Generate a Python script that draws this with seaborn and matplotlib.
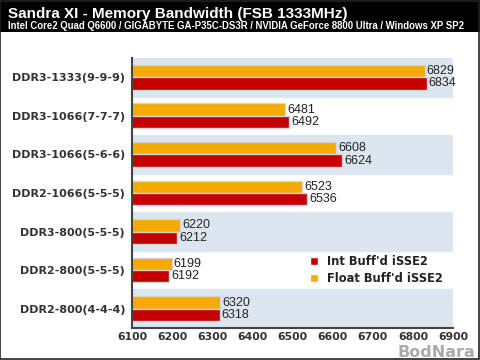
import matplotlib
matplotlib.use('Agg')
import matplotlib.pyplot as plt
import seaborn as sns
import pandas as pd
from matplotlib.patches import Rectangle, Patch

# Chart data
categories = ['DDR3-1333(9-9-9)', 'DDR3-1066(7-7-7)', 'DDR3-1066(5-6-6)', 'DDR2-1066(5-5-5)',
              'DDR3-800(5-5-5)', 'DDR2-800(5-5-5)', 'DDR2-800(4-4-4)']
float_vals = [6829, 6481, 6608, 6523, 6220, 6199, 6320]
int_vals = [6834, 6492, 6624, 6536, 6212, 6192, 6318]
series = ["Float Buff'd iSSE2", "Int Buff'd iSSE2"]
x_ticks = [6100, 6200, 6300, 6400, 6500, 6600, 6700, 6800, 6900]

df = pd.DataFrame({
    'Config': categories * 2,
    'Value': float_vals + int_vals,
    'Test': [series[0]] * len(categories) + [series[1]] * len(categories),
})

palette = {series[0]: '#f5aa00', series[1]: '#c40000'}

sns.set_style('white')
plt.rcParams['font.family'] = ['DejaVu Sans']

fig = plt.figure(figsize=(4.8, 3.6), dpi=100)
ax = fig.add_axes([0.275, 0.089, 0.669, 0.75])

# alternating row bands
for i in range(0, len(categories), 2):
    ax.axhspan(i - 0.5, i + 0.5, color='#dce6f1', zorder=0)

sns.barplot(data=df, y='Config', x='Value', hue='Test', hue_order=series, palette=palette,
            orient='h', width=0.64, edgecolor='#d4d4d4', linewidth=1, ax=ax, zorder=2,
            saturation=1, legend=False)

for cont in ax.containers:
    ax.bar_label(cont, padding=1.5, fontsize=9, color='#222222', family='Liberation Sans')

ax.set_xlim(6100, 6900)
ax.set_ylim(len(categories) - 0.5, -0.5)
ax.set_xticks(x_ticks)
ax.set_xticklabels([str(t) for t in x_ticks], fontsize=7.8, fontweight='bold', color='#333333')
ax.set_yticklabels(categories, fontsize=8, fontweight='bold', color='#333333')
ax.tick_params(axis='y', length=0, pad=5)
ax.tick_params(axis='x', length=0, pad=3)
ax.set_xlabel('')
ax.set_ylabel('')
for s in ['top', 'right']:
    ax.spines[s].set_visible(False)
for s in ['left', 'bottom']:
    ax.spines[s].set_color('#444444')
    ax.spines[s].set_linewidth(1.5)

handles = [Patch(facecolor=palette[series[1]]), Patch(facecolor=palette[series[0]])]
ax.legend(handles, [series[1], series[0]], loc='lower right', bbox_to_anchor=(1.0, 0.12),
          frameon=False, handlelength=0.7, handleheight=0.7,
          labelspacing=0.35, handletextpad=0.8, prop={'weight': 'bold', 'size': 8.3})
for t in ax.get_legend().get_texts():
    t.set_color('#222222')

# header
fig.patches.append(Rectangle((0, 0.911), 1, 0.089, transform=fig.transFigure,
                             facecolor='black', edgecolor='none', zorder=0))
fig.text(0.017, 0.962, 'Sandra XI - Memory Bandwidth (FSB 1333MHz)', color='white',
         fontsize=11, fontweight='bold', va='center', family='Liberation Sans')
fig.text(0.017, 0.927, 'Intel Core2 Quad Q6600 / GIGABYTE GA-P35C-DS3R / NVIDIA GeForce 8800 Ultra / Windows XP SP2',
         color='white', fontsize=6.9, fontweight='bold', va='center', family='Liberation Sans')

# frame and watermark
fig.patches.append(Rectangle((0.001, 0.002), 0.997, 0.996, transform=fig.transFigure,
                             facecolor='none', edgecolor='#222222', linewidth=1.2))
fig.text(0.99, 0.022, 'BodNara', color='#aaaaaa', fontsize=11.5, fontweight='bold',
         ha='right', va='center')

fig.savefig('out.png', dpi=100)
